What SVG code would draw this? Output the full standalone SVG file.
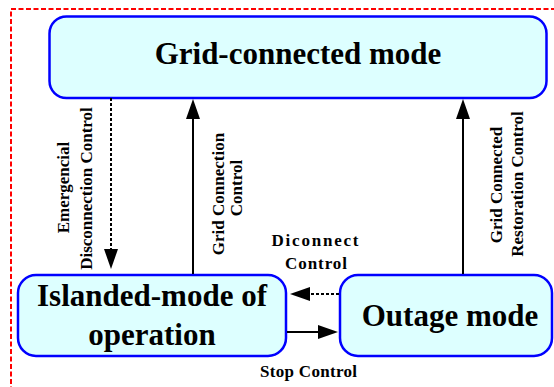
<svg xmlns="http://www.w3.org/2000/svg" width="554" height="387" viewBox="0 0 554 387">
<style>
.box{fill:#DDFFFF;stroke:#0000FF;stroke-width:2.5}
.big{font-family:"Liberation Serif","Times New Roman",serif;font-weight:bold;font-size:31px;fill:#000;text-anchor:middle}
.lbl{font-family:"Liberation Serif","Times New Roman",serif;font-weight:bold;font-size:17px;fill:#000;text-anchor:middle}
.ln{fill:none;stroke:#000;stroke-width:2}
.dash{stroke-dasharray:3,2}
</style>
<defs>
<marker id="ah" markerUnits="userSpaceOnUse" markerWidth="20" markerHeight="14" refX="0" refY="7" orient="auto">
<path d="M0,0 L20,7 L0,14 z" fill="#000"/>
</marker>
</defs>
<rect x="11" y="9" width="560" height="400" fill="none" stroke="#FF0000" stroke-width="2" stroke-dasharray="5,2.5"/>
<g id="grid-connected">
<rect class="box" x="49.5" y="16.5" width="497" height="81.5" rx="17"/>
<text class="big" x="298" y="64">Grid-connected mode</text>
</g>
<g id="islanded">
<rect class="box" x="18" y="275" width="268" height="81" rx="18"/>
<text class="big" x="152" y="306">Islanded-mode of</text>
<text class="big" x="152" y="345">operation</text>
</g>
<g id="outage">
<rect class="box" x="340" y="275" width="212" height="81" rx="18"/>
<text class="big" x="450" y="326">Outage mode</text>
</g>
<g id="connectors">
<path class="ln dash" d="M111,98 V249" marker-end="url(#ah)"/>
<path class="ln" d="M193,274 V119" marker-end="url(#ah)"/>
<path class="ln" d="M463,274 V119" marker-end="url(#ah)"/>
<path class="ln dash" d="M339,294 H310" marker-end="url(#ah)"/>
<path class="ln" d="M287,332 H318" marker-end="url(#ah)"/>
</g>
<g id="labels">
<text class="lbl" transform="translate(69,187.5) rotate(-90)">Emergencial</text>
<text class="lbl" transform="translate(91.5,188.5) rotate(-90)">Disconnection Control</text>
<text class="lbl" transform="translate(223.5,194) rotate(-90)">Grid Connection</text>
<text class="lbl" transform="translate(241.5,188) rotate(-90)">Control</text>
<text class="lbl" transform="translate(502,185) rotate(-90)">Grid Connected</text>
<text class="lbl" transform="translate(523,184) rotate(-90)">Restoration Control</text>
<text class="lbl" x="315" y="246" textLength="87">Diconnect</text>
<text class="lbl" x="316" y="269" textLength="62">Control</text>
<text class="lbl" x="308.5" y="377" textLength="97">Stop Control</text>
</g>
</svg>
